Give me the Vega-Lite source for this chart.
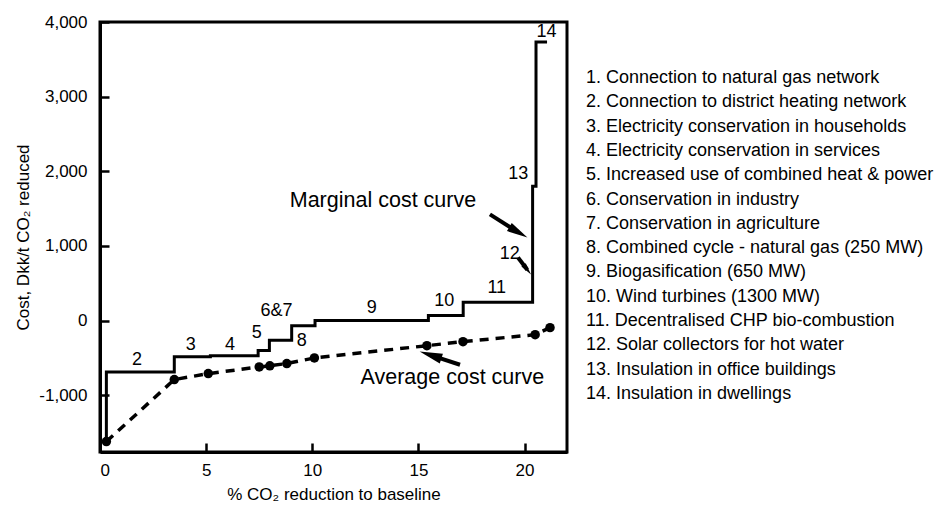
{
  "$schema": "https://vega.github.io/schema/vega-lite/v6.json",
  "width": 467,
  "height": 430,
  "autosize": {"type": "none"},
  "padding": {"left": 100, "top": 22, "right": 370, "bottom": 56},
  "background": "white",
  "config": {
    "font": "Liberation Sans",
    "view": {"stroke": "black", "strokeWidth": 3},
    "axis": {
      "grid": false,
      "domainColor": "black",
      "domainWidth": 3,
      "labelColor": "black",
      "labelFontSize": 17,
      "titleColor": "black",
      "titleFontSize": 17,
      "titleFontWeight": "normal"
    },
    "text": {"color": "black", "font": "Liberation Sans"}
  },
  "datasets": {
    "marginal": [
      {"x": 0, "cost": -1620},
      {"x": 0.3, "cost": -690},
      {"x": 3.5, "cost": -485},
      {"x": 5.2, "cost": -470},
      {"x": 7.45, "cost": -400},
      {"x": 7.98, "cost": -262},
      {"x": 9.03, "cost": -70},
      {"x": 10.13, "cost": 0},
      {"x": 15.47, "cost": 67},
      {"x": 17.11, "cost": 246},
      {"x": 20.38, "cost": 1800},
      {"x": 20.54, "cost": 3732},
      {"x": 21.06, "cost": 3732}
    ],
    "average": [
      {"x": 0.3, "cost": -1620},
      {"x": 3.5, "cost": -790},
      {"x": 5.1, "cost": -710},
      {"x": 7.5, "cost": -620},
      {"x": 8.0, "cost": -605},
      {"x": 8.8, "cost": -575},
      {"x": 10.1, "cost": -500},
      {"x": 15.4, "cost": -336},
      {"x": 17.1, "cost": -282},
      {"x": 20.5, "cost": -188},
      {"x": 21.2, "cost": -94}
    ],
    "stepLabels": [
      {"label": "2", "x": 1.74, "cost": -523},
      {"label": "3", "x": 4.27, "cost": -322},
      {"label": "4", "x": 6.12, "cost": -322},
      {"label": "5", "x": 7.38, "cost": -166},
      {"label": "6&7", "x": 8.32, "cost": 125},
      {"label": "8", "x": 9.5, "cost": -278},
      {"label": "9", "x": 12.8, "cost": 170},
      {"label": "10", "x": 16.22, "cost": 259},
      {"label": "11", "x": 18.69, "cost": 439},
      {"label": "12", "x": 19.3, "cost": 886},
      {"label": "13", "x": 19.7, "cost": 1960},
      {"label": "14", "x": 21.04, "cost": 3862}
    ],
    "curveNames": [
      {"label": "Marginal cost curve", "x": 13.33, "cost": 1597},
      {"label": "Average cost curve", "x": 16.6, "cost": -765}
    ],
    "arrows": [
      {"x": 18.37, "cost": 1423, "x2": 19.71, "cost2": 1183, "angle": 30.5, "head": 440},
      {"x": 19.69, "cost": 846, "x2": 20.13, "cost2": 682, "angle": 52.6, "head": 150},
      {"x": 16.96, "cost": -591, "x2": 15.57, "cost2": -462, "angle": 198, "head": 520}
    ],
    "measures": [
      {"measure": "1. Connection to natural gas network"},
      {"measure": "2. Connection to district heating network"},
      {"measure": "3. Electricity conservation in households"},
      {"measure": "4. Electricity conservation in services"},
      {"measure": "5. Increased use of combined heat & power"},
      {"measure": "6. Conservation in industry"},
      {"measure": "7. Conservation in agriculture"},
      {"measure": "8. Combined cycle - natural gas (250 MW)"},
      {"measure": "9. Biogasification (650 MW)"},
      {"measure": "10. Wind turbines (1300 MW)"},
      {"measure": "11. Decentralised CHP bio-combustion"},
      {"measure": "12. Solar collectors for hot water"},
      {"measure": "13. Insulation in office buildings"},
      {"measure": "14. Insulation in dwellings"}
    ]
  },
  "layer": [
    {
      "data": {"name": "marginal"},
      "mark": {"type": "line", "interpolate": "step-after", "color": "black", "strokeWidth": 3},
      "encoding": {
        "x": {
          "field": "x", "type": "quantitative",
          "scale": {"domain": [0, 22], "nice": false, "zero": false},
          "axis": {
            "values": [0, 5, 10, 15, 20],
            "title": "% CO₂ reduction to baseline",
            "ticks": true, "tickSize": -9, "tickWidth": 2.5, "tickColor": "black",
            "labelPadding": 19, "titlePadding": 8
          }
        },
        "y": {
          "field": "cost", "type": "quantitative",
          "scale": {"domain": [-1760, 4000], "nice": false, "zero": false},
          "axis": {
            "values": [-1000, 0, 1000, 2000, 3000, 4000],
            "format": ",d",
            "labelExpr": "replace(datum.label, '−', '-')",
            "title": "Cost, Dkk/t CO₂ reduced",
            "ticks": true, "tickSize": -9, "tickWidth": 2.5, "tickColor": "black",
            "labelPadding": 22,
            "titlePadding": 6
          }
        }
      }
    },
    {
      "mark": {"type": "rule", "color": "black", "strokeWidth": 3},
      "encoding": {"y": {"datum": 0, "type": "quantitative"}}
    },
    {
      "data": {"name": "average"},
      "mark": {"type": "line", "color": "black", "strokeWidth": 3.5, "strokeDash": [9, 7]},
      "encoding": {
        "x": {"field": "x", "type": "quantitative"},
        "y": {"field": "cost", "type": "quantitative"}
      }
    },
    {
      "data": {"name": "average"},
      "mark": {"type": "point", "shape": "circle", "filled": true, "color": "black", "opacity": 1, "size": 90},
      "encoding": {
        "x": {"field": "x", "type": "quantitative"},
        "y": {"field": "cost", "type": "quantitative"}
      }
    },
    {
      "data": {"name": "stepLabels"},
      "mark": {"type": "text", "fontSize": 18, "align": "center", "baseline": "middle"},
      "encoding": {
        "x": {"field": "x", "type": "quantitative"},
        "y": {"field": "cost", "type": "quantitative"},
        "text": {"field": "label"}
      }
    },
    {
      "data": {"name": "curveNames"},
      "mark": {"type": "text", "fontSize": 21.5, "align": "center", "baseline": "middle"},
      "encoding": {
        "x": {"field": "x", "type": "quantitative"},
        "y": {"field": "cost", "type": "quantitative"},
        "text": {"field": "label"}
      }
    },
    {
      "data": {"name": "arrows"},
      "mark": {"type": "rule", "color": "black", "strokeWidth": 4},
      "encoding": {
        "x": {"field": "x", "type": "quantitative"},
        "y": {"field": "cost", "type": "quantitative"},
        "x2": {"field": "x2"},
        "y2": {"field": "cost2"}
      }
    },
    {
      "data": {"name": "arrows"},
      "mark": {"type": "point", "shape": "M-1,-0.45L1,0L-1,0.45Z", "filled": true, "color": "black", "opacity": 1},
      "encoding": {
        "x": {"field": "x2", "type": "quantitative"},
        "y": {"field": "cost2", "type": "quantitative"},
        "angle": {"field": "angle", "type": "quantitative", "scale": null},
        "size": {"field": "head", "type": "quantitative", "scale": null, "legend": null}
      }
    },
    {
      "data": {"name": "measures"},
      "mark": {"type": "point", "opacity": 0},
      "encoding": {
        "color": {
          "field": "measure", "type": "nominal",
          "sort": null,
          "scale": {"range": ["black"]},
          "legend": {
            "orient": "none",
            "legendX": 468,
            "legendY": 47,
            "title": null,
            "padding": 0,
            "symbolOpacity": 0,
            "symbolSize": 0,
            "symbolStrokeWidth": 0,
            "labelOffset": 0,
            "labelFontSize": 18,
            "labelColor": "black",
            "labelLimit": 600,
            "rowPadding": 6.3
          }
        }
      }
    }
  ]
}
